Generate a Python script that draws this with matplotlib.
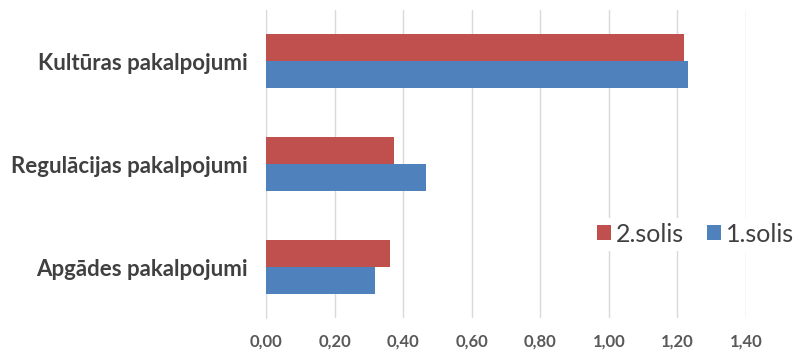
import matplotlib.pyplot as plt
import numpy as np

categories = ['Kultūras pakalpojumi', 'Regulācijas pakalpojumi', 'Apgādes pakalpojumi']
solis_2 = [1.22, 0.372, 0.362]
solis_1 = [1.231, 0.467, 0.318]
xticks = [0.0, 0.2, 0.4, 0.6, 0.8, 1.0, 1.2, 1.4]

red = '#C0504D'
blue = '#4F81BD'
plt.rcParams['font.family'] = ['Lato', 'DejaVu Sans']

fig = plt.figure(figsize=(8, 3.54), dpi=100)
ax = fig.add_axes([0.3325, 0.1003, 0.6, 0.8727])

y = np.arange(len(categories))
h = 0.262
ax.barh(y - h / 2, solis_2, height=h, color=red, label='2.solis', zorder=3)
ax.barh(y + h / 2, solis_1, height=h, color=blue, label='1.solis', zorder=3)

ax.set_ylim(2.5, -0.5)
ax.set_xlim(0, 1.4)
ax.set_xticks(xticks)
ax.set_xticklabels([f'{v:.2f}'.replace('.', ',') for v in xticks],
                   fontsize=12, fontweight='bold', color='#595959')
ax.set_yticks(y)
ax.set_yticklabels(categories, fontsize=16, fontweight='bold', color='#404040')
ax.tick_params(axis='x', length=0, pad=11)
ax.tick_params(axis='y', length=0, pad=13)

ax.grid(axis='x', color='#D9D9D9', linewidth=1, zorder=0)
for s in ['top', 'right', 'bottom']:
    ax.spines[s].set_visible(False)
ax.spines['left'].set_color('#D9D9D9')

leg = ax.legend(loc='center', bbox_to_anchor=(0.895, 0.273), ncol=2, frameon=True,
                fontsize=18, handlelength=0.55, handleheight=0.55, handletextpad=0.2,
                columnspacing=0.9, borderpad=0.2)
leg.get_frame().set_facecolor('white')
leg.get_frame().set_edgecolor('none')
leg.get_frame().set_alpha(1)
for t in leg.get_texts():
    t.set_color('#404040')

fig.savefig('out.png', dpi=100)
